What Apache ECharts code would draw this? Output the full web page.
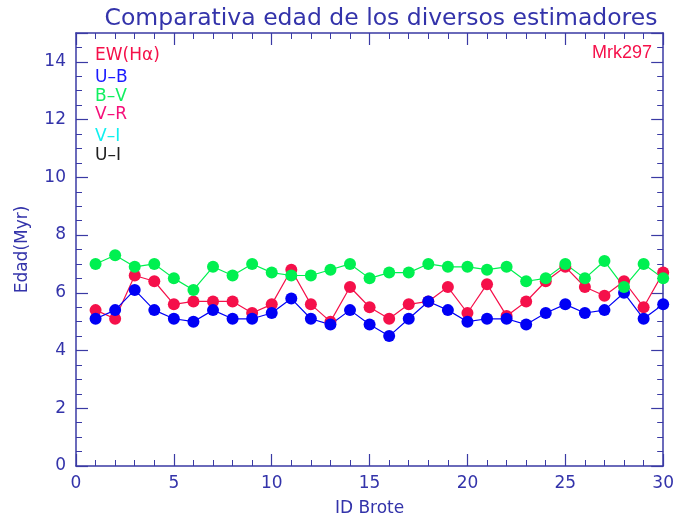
<!DOCTYPE html>
<html>
<head>
<meta charset="utf-8">
<script src="https://cdn.jsdelivr.net/npm/echarts@6/dist/echarts.min.js"></script>
<style>
  html, body { margin: 0; padding: 0; background: #ffffff; }
  #chart { width: 677px; height: 525px; }
</style>
</head>
<body>
<div id="chart"></div>
<script>
// Star-forming knot IDs (ID Brote)
const brotes = Array.from({ length: 30 }, (_, i) => i + 1);

// Age estimates (Myr) per knot for each estimator
const ewHalpha = [5.4, 5.1, 6.6, 6.4, 5.6, 5.7, 5.7, 5.7, 5.3, 5.6,
                  6.8, 5.6, 5.0, 6.2, 5.5, 5.1, 5.6, 5.7, 6.2, 5.3,
                  6.3, 5.2, 5.7, 6.4, 6.9, 6.2, 5.9, 6.4, 5.5, 6.7];
const uMinusB  = [5.1, 5.4, 6.1, 5.4, 5.1, 5.0, 5.4, 5.1, 5.1, 5.3,
                  5.8, 5.1, 4.9, 5.4, 4.9, 4.5, 5.1, 5.7, 5.4, 5.0,
                  5.1, 5.1, 4.9, 5.3, 5.6, 5.3, 5.4, 6.0, 5.1, 5.6];
const bMinusV  = [7.0, 7.3, 6.9, 7.0, 6.5, 6.1, 6.9, 6.6, 7.0, 6.7,
                  6.6, 6.6, 6.8, 7.0, 6.5, 6.7, 6.7, 7.0, 6.9, 6.9,
                  6.8, 6.9, 6.4, 6.5, 7.0, 6.5, 7.1, 6.2, 7.0, 6.5];

// Legend entries (label, colour)
const legendLabels = ['EW(H\u03B1)', 'U\u2013B', 'B\u2013V', 'V\u2013R', 'V\u2013I', 'U\u2013I'];
const legendColors = ['#f5104a', '#1a1aff', '#10f060', '#f5107a', '#10f0f0', '#202020'];

const xTicks = [0, 5, 10, 15, 20, 25, 30];
const yTicks = [0, 2, 4, 6, 8, 10, 12, 14];

const axisColor = '#3a3aa4';
const textColor = '#3333aa';
const font = 'DejaVu Sans';

const pairs = (ys) => brotes.map((x, i) => [x, ys[i]]);

function frameAxis(extra) {
  return Object.assign({
    axisLine: { show: true, onZero: false, lineStyle: { color: axisColor, width: 1.5 } },
    axisTick: { show: true, inside: true, length: 12, lineStyle: { color: axisColor, width: 1.2 } },
    splitLine: { show: false },
    minorSplitLine: { show: false }
  }, extra);
}

const chart = echarts.init(document.getElementById('chart'), null, { renderer: 'canvas' });

const legendGraphics = legendLabels.map((t, i) => ({
  type: 'text',
  left: 95,
  top: [47, 69, 88, 106, 128, 147][i],
  style: { text: t, fill: legendColors[i], font: '17px "' + font + '"' }
}));

chart.setOption({
  animation: false,
  backgroundColor: '#ffffff',
  title: {
    text: 'Comparativa edad de los diversos estimadores',
    left: 376, top: 2, textAlign: 'center',
    textStyle: { color: textColor, fontFamily: font, fontWeight: 'normal', fontSize: 23.5 }
  },
  grid: { left: 76, right: 9, top: 33, bottom: 59 },
  xAxis: [
    frameAxis({
      type: 'value', position: 'bottom', min: 0, max: 30, interval: 5,
      minorTick: { show: true, splitNumber: 5, length: 6, lineStyle: { color: axisColor, width: 1 } },
      axisLabel: { color: textColor, fontFamily: font, fontSize: 17, margin: 9 },
      name: 'ID Brote', nameLocation: 'middle', nameGap: 34,
      nameTextStyle: { color: textColor, fontFamily: font, fontSize: 17 }
    }),
    frameAxis({
      type: 'value', position: 'top', min: 0, max: 30, interval: 5,
      minorTick: { show: true, splitNumber: 5, length: 6, lineStyle: { color: axisColor, width: 1 } },
      axisLabel: { show: false }
    })
  ],
  yAxis: [
    frameAxis({
      type: 'value', position: 'left', min: 0, max: 15, interval: 2,
      minorTick: { show: true, splitNumber: 4, length: 6, lineStyle: { color: axisColor, width: 1 } },
      axisLabel: {
        color: textColor, fontFamily: font, fontSize: 17, margin: 10,
        formatter: (v) => (yTicks.indexOf(v) >= 0 ? String(v) : '')
      },
      name: 'Edad(Myr)', nameLocation: 'middle', nameGap: 45, nameRotate: 90,
      nameTextStyle: { color: textColor, fontFamily: font, fontSize: 17 }
    }),
    frameAxis({
      type: 'value', position: 'right', min: 0, max: 15, interval: 2,
      minorTick: { show: true, splitNumber: 4, length: 6, lineStyle: { color: axisColor, width: 1 } },
      axisLabel: { show: false }
    })
  ],
  graphic: legendGraphics.concat([{
    type: 'text',
    right: 25,
    top: 44,
    style: { text: 'Mrk297', fill: '#f5104a', font: '18px "Liberation Sans"' }
  }]),
  series: [
    { name: legendLabels[0], color: legendColors[0], data: pairs(ewHalpha) },
    { name: legendLabels[1], color: '#0000f5', data: pairs(uMinusB) },
    { name: legendLabels[2], color: '#00f050', data: pairs(bMinusV) }
  ].map((s) => Object.assign({
    type: 'line',
    symbol: 'circle',
    symbolSize: 12,
    itemStyle: { color: s.color },
    silent: true
  }, s, { lineStyle: { width: 1.2, color: s.color } }))
});
</script>
</body>
</html>
